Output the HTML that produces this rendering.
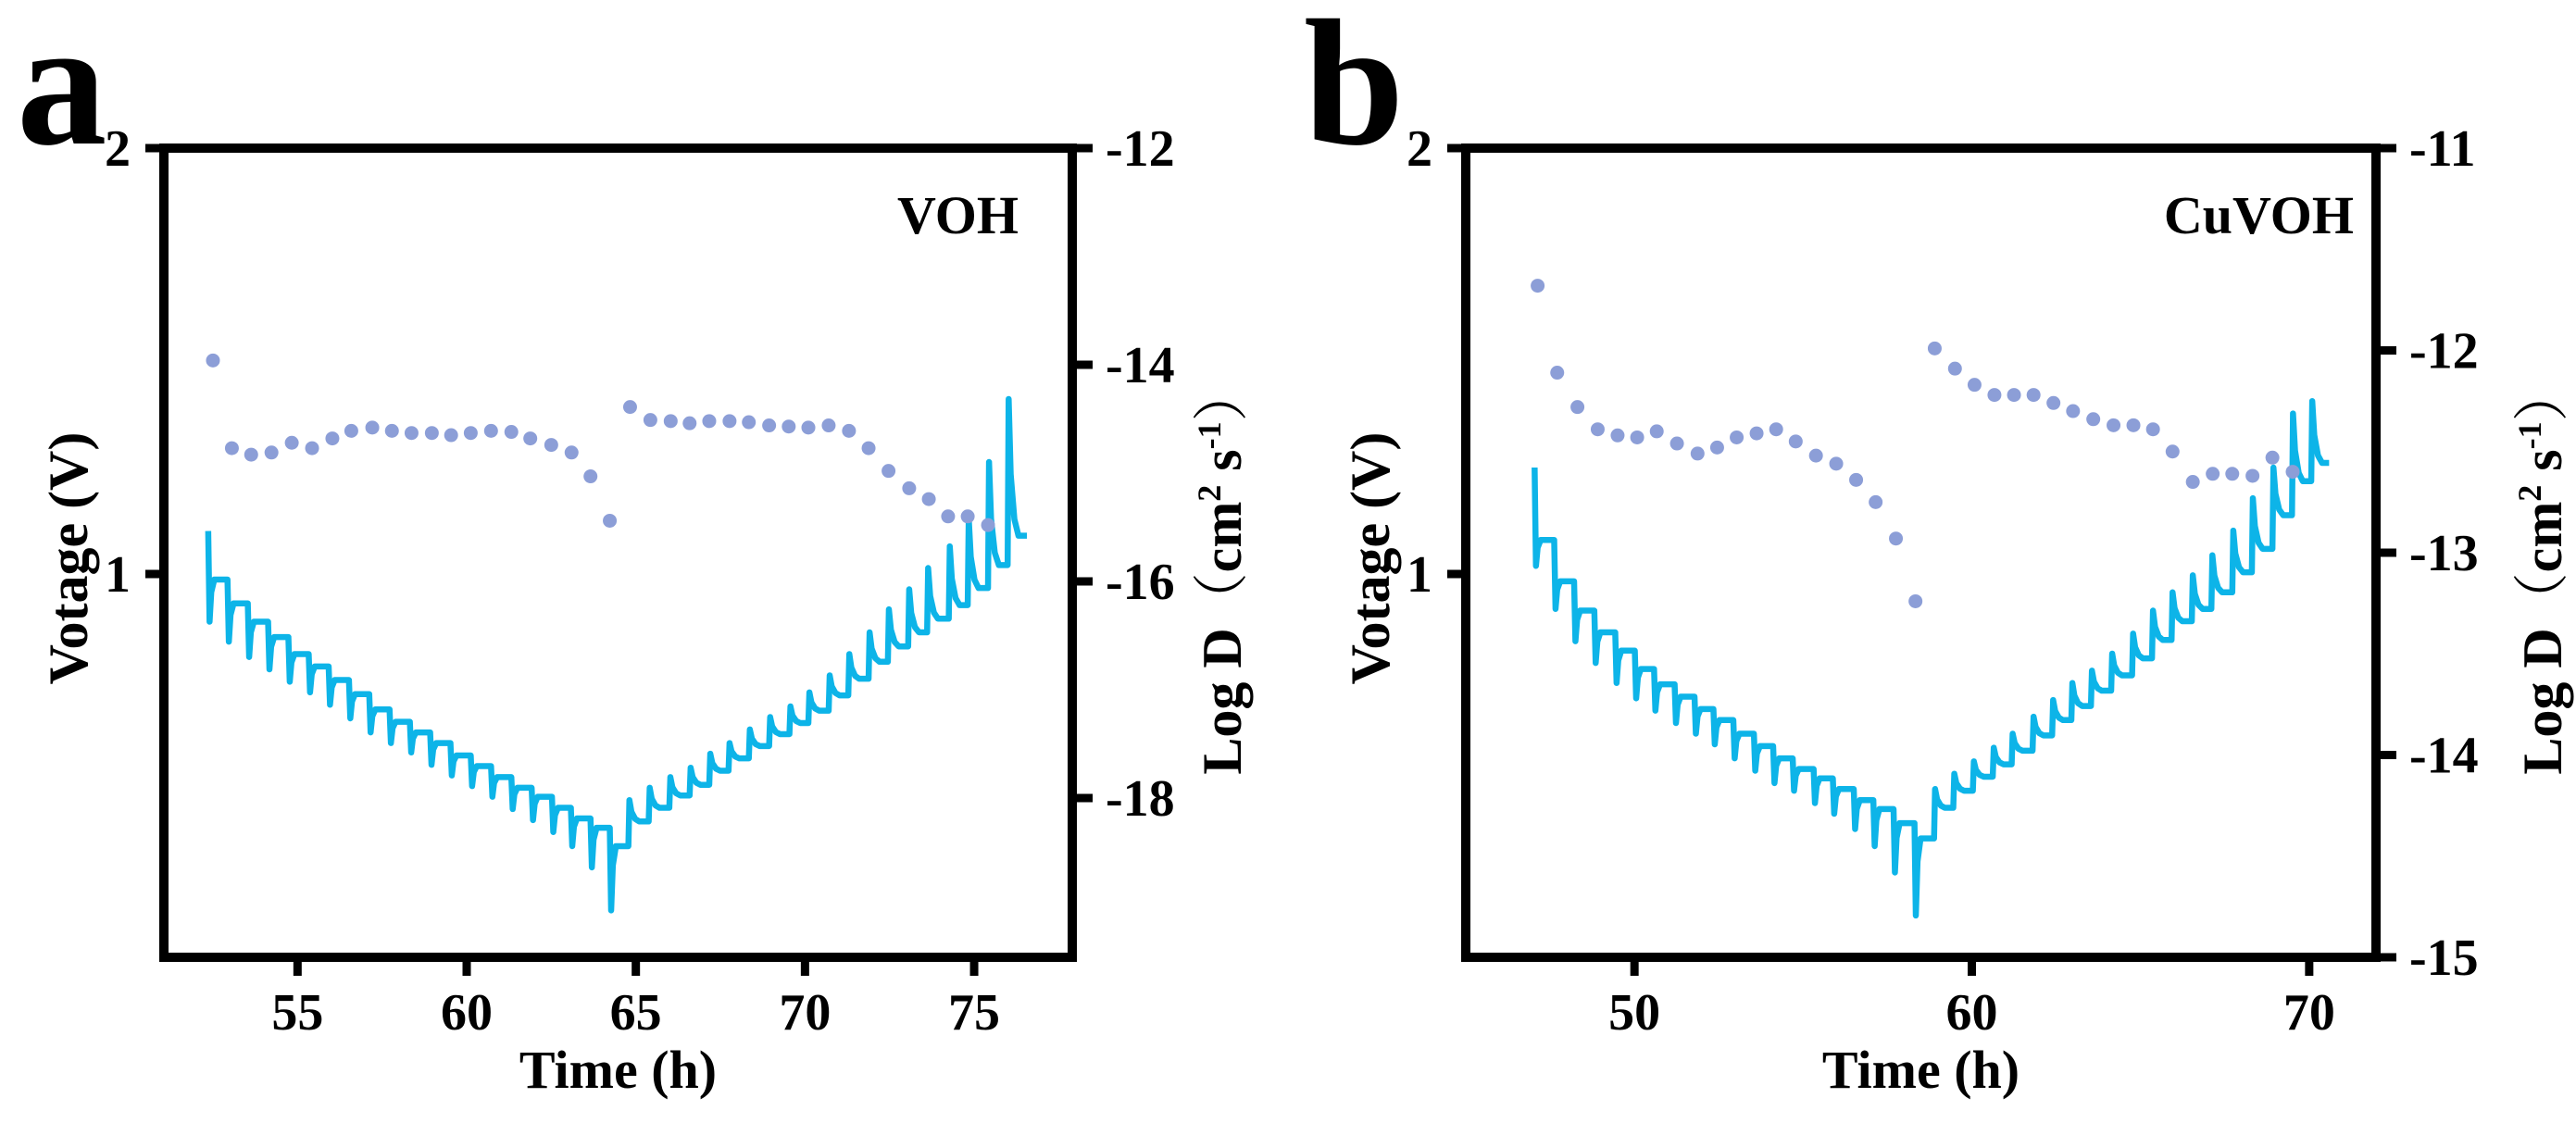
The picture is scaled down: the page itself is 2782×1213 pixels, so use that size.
<!DOCTYPE html>
<html>
<head>
<meta charset="utf-8">
<style>
  html, body { margin: 0; padding: 0; background: #fff; }
  body { width: 2782px; height: 1208px; overflow: hidden; }
  svg text { font-family: "Liberation Serif", "Noto Serif CJK SC", serif; font-weight: bold; fill: #000; }
</style>
</head>
<body>
<svg id="fig" width="2782" height="1208" viewBox="0 0 2782 1208" xmlns="http://www.w3.org/2000/svg"></svg>
<script>
// ---------- Panel a (VOH) data ----------
const aXTicks = [55, 60, 65, 70, 75];
const aLeftTicks = [1, 2];
const aRightTicks = [-12, -14, -16, -18];
const aDotTimes = [52.50,53.06,53.63,54.23,54.83,55.43,56.03,56.59,57.21,57.79,58.37,58.97,59.54,60.12,60.72,61.32,61.88,62.50,63.10,63.66,64.23,64.83,65.43,66.03,66.59,67.17,67.77,68.34,68.94,69.52,70.10,70.70,71.30,71.88,72.47,73.08,73.66,74.23,74.81,75.41];
const aDotLogD = [-13.96,-14.77,-14.83,-14.81,-14.72,-14.77,-14.68,-14.61,-14.58,-14.61,-14.63,-14.63,-14.65,-14.63,-14.61,-14.62,-14.68,-14.74,-14.81,-15.03,-15.44,-14.39,-14.51,-14.52,-14.54,-14.52,-14.52,-14.53,-14.56,-14.57,-14.58,-14.56,-14.61,-14.77,-14.98,-15.14,-15.24,-15.40,-15.40,-15.48];
const aDisTimes = [52.36,52.93,53.53,54.13,54.73,55.33,55.92,56.52,57.12,57.72,58.32,58.92,59.52,60.12,60.72,61.32,61.92,62.52,63.08,63.66,64.23];
const aDisTops = [1.101,0.987,0.931,0.888,0.852,0.812,0.783,0.751,0.718,0.682,0.653,0.628,0.603,0.574,0.549,0.523,0.498,0.477,0.451,0.426,0.404];
const aDisBots = [0.888,0.841,0.805,0.776,0.747,0.722,0.693,0.661,0.628,0.603,0.581,0.552,0.527,0.502,0.477,0.448,0.422,0.394,0.361,0.311,0.210];
const aChgTimes = [64.78,65.38,65.99,66.59,67.17,67.74,68.34,68.94,69.54,70.10,70.70,71.28,71.88,72.45,73.05,73.61,74.25,74.81,75.41,75.99,76.56];
const aChgFloors = [0.361,0.419,0.451,0.480,0.505,0.538,0.567,0.596,0.624,0.650,0.679,0.715,0.754,0.794,0.830,0.863,0.895,0.927,0.967,1.021,1.090];
const aChgPeaks = [0.469,0.498,0.523,0.545,0.578,0.603,0.635,0.664,0.689,0.722,0.762,0.812,0.863,0.917,0.964,1.014,1.065,1.130,1.263,1.411];

// ---------- Panel b (CuVOH) data ----------
const bXTicks = [50, 60, 70];
const bLeftTicks = [1, 2];
const bRightTicks = [-11, -12, -13, -14, -15];
const bDotTimes = [47.13,47.71,48.31,48.91,49.50,50.08,50.66,51.26,51.87,52.45,53.03,53.62,54.20,54.78,55.38,55.98,56.57,57.15,57.75,58.33,58.90,59.50,60.08,60.67,61.25,61.83,62.42,63.00,63.60,64.20,64.79,65.37,65.95,66.55,67.14,67.72,68.32,68.91,69.51];
const bDotLogD = [-11.68,-12.11,-12.28,-12.39,-12.42,-12.43,-12.40,-12.46,-12.51,-12.48,-12.43,-12.41,-12.39,-12.45,-12.52,-12.56,-12.64,-12.75,-12.93,-13.24,-11.99,-12.09,-12.17,-12.22,-12.22,-12.22,-12.26,-12.30,-12.34,-12.37,-12.37,-12.39,-12.50,-12.65,-12.61,-12.61,-12.62,-12.53,-12.60];
const bDisTimes = [47.04,47.62,48.21,48.81,49.43,50.01,50.58,51.19,51.78,52.34,52.93,53.54,54.11,54.69,55.31,55.88,56.50,57.08,57.68,58.30];
const bDisTops = [1.250,1.080,0.983,0.914,0.863,0.820,0.777,0.741,0.712,0.683,0.657,0.625,0.596,0.567,0.542,0.520,0.495,0.469,0.448,0.415];
const bDisBots = [1.019,0.918,0.842,0.791,0.744,0.708,0.679,0.650,0.625,0.600,0.567,0.538,0.509,0.491,0.462,0.437,0.401,0.361,0.299,0.198];
const bChgTimes = [58.88,59.45,60.03,60.62,61.18,61.80,62.38,62.95,63.53,64.13,64.75,65.34,65.92,66.52,67.10,67.72,68.30,68.91,69.49,70.06,70.59];
const bChgFloors = [0.379,0.451,0.491,0.524,0.553,0.585,0.621,0.657,0.690,0.726,0.762,0.802,0.845,0.889,0.918,0.957,1.004,1.059,1.138,1.218,1.261];
const bChgPeaks = [0.495,0.531,0.560,0.592,0.625,0.665,0.704,0.744,0.773,0.813,0.860,0.914,0.957,0.997,1.044,1.102,1.178,1.250,1.377,1.406];

const NS = 'http://www.w3.org/2000/svg';
const svg = document.getElementById('fig');
function mk(tag, attrs, parent) {
  const e = document.createElementNS(NS, tag);
  for (const k in attrs) e.setAttribute(k, attrs[k]);
  (parent || svg).appendChild(e);
  return e;
}
function txt(str, attrs, parent) { const t = mk('text', attrs, parent); t.textContent = str; return t; }

function drawPanel(cfg) {
  const g = mk('g', {});
  
  
  const L = cfg.left, R = cfg.right, T = 160, B = 1034;
  const x = t => L + (t - cfg.xmin) / (cfg.xmax - cfg.xmin) * (R - L);
  const yV = v => B - (v - 0.1) / (2 - 0.1) * (B - T);
  const yD = d => T + (cfg.dmax - d) / (cfg.dmax - cfg.dmin) * (B - T);

  const letter = txt(cfg.letter, { x: cfg.letterX, y: 155, 'font-size': 195 }, g);
  
  

  let d = 'M' + x(cfg.disT[0]) + ',' + yV(cfg.disTop[0]);
  const n = cfg.disT.length;
  for (let i = 0; i < n; i++) {
    const t = cfg.disT[i];
    const next = i < n - 1 ? cfg.disTop[i + 1] : cfg.chgF[0];
    d += ' L' + x(t) + ',' + yV(cfg.disTop[i]);
    d += ' L' + x(t + 0.04) + ',' + yV(cfg.disBot[i]);
    d += ' L' + x(t + 0.09) + ',' + yV(next - 0.3 * (next - cfg.disBot[i]));
    d += ' L' + x(t + 0.18) + ',' + yV(next);
  }
  const m = cfg.chgP.length;
  for (let i = 0; i < m; i++) {
    const t = cfg.chgT[i];
    const f = cfg.chgF[i], nf = cfg.chgF[i + 1], p = cfg.chgP[i];
    d += ' L' + x(t) + ',' + yV(f);
    d += ' L' + x(t + 0.03) + ',' + yV(p);
    d += ' L' + x(t + 0.09) + ',' + yV(nf + 0.45 * (p - nf));
    d += ' L' + x(t + 0.2) + ',' + yV(nf + 0.12 * (p - nf));
    d += ' L' + x(t + 0.32) + ',' + yV(nf);
  }
  d += ' L' + x(cfg.chgT[m]) + ',' + yV(cfg.chgF[m]);
  const line = mk('path', { d: d, fill: 'none', stroke: '#0db4e8', 'stroke-width': 6.5, 'stroke-linejoin': 'round' }, g);
  
  

  for (let i = 0; i < cfg.dotT.length; i++) {
    const c = mk('circle', { cx: x(cfg.dotT[i]), cy: yD(cfg.dotD[i]), r: 7.5, fill: '#8c9ed7' }, g);
    
    
  }

  const frame = mk('rect', { x: L, y: T, width: R - L, height: B - T, fill: 'none', stroke: '#000', 'stroke-width': 10 }, g);
  
  

  cfg.xt.forEach(v => {
    mk('line', { x1: x(v), x2: x(v), y1: B, y2: B + 20, stroke: '#000', 'stroke-width': 9 }, g);
    const tl = txt(String(v), { x: x(v), y: 1112, 'font-size': 56, 'text-anchor': 'middle' }, g);
    
    
  });
  cfg.lt.forEach(v => {
    mk('line', { x1: L - 20, x2: L, y1: yV(v), y2: yV(v), stroke: '#000', 'stroke-width': 9 }, g);
    const tl = txt(String(v), { x: L - 36, y: yV(v) + 19, 'font-size': 56, 'text-anchor': 'end' }, g);
    
    
  });
  cfg.rt.forEach(v => {
    mk('line', { x1: R, x2: R + 22, y1: yD(v), y2: yD(v), stroke: '#000', 'stroke-width': 9 }, g);
    const tl = txt(String(v), { x: R + 36, y: yD(v) + 19, 'font-size': 56 }, g);
    
    
  });

  const xt = txt('Time (h)', { x: (L + R) / 2, y: 1175, 'font-size': 58, 'text-anchor': 'middle' }, g);
  
  
  const yl = txt('Votage (V)', { x: 0, y: 0, 'font-size': 60, 'text-anchor': 'middle', transform: 'translate(' + (L + 2 - 85) + ',603) rotate(-90)' }, g);
  
  
  const yr = mk('text', { x: 0, y: 0, 'font-size': 60, 'text-anchor': 'middle', transform: 'translate(' + cfg.logDX + ',616) rotate(-90)' }, g);
  
  
  const parts = [['Log D', {}], ['\uFF08', { 'font-weight': 'normal' }], ['cm', {}], ['2', { 'font-size': 36, dy: -22 }], [' s', { dy: 22 }], ['-1', { 'font-size': 36, dy: -22 }], ['\uFF09', { 'font-weight': 'normal', dy: 22 }]];
  parts.forEach(p => { const s = mk('tspan', p[1], yr); s.textContent = p[0]; });

  const sl = txt(cfg.sample, { x: cfg.sampleX, y: 252, 'font-size': 58, 'text-anchor': 'end' }, g);
  
  
}

drawPanel({ id: 'a', letter: 'a', letterX: 18, sample: 'VOH', sampleX: 1100, left: 177, right: 1158,
  xmin: 51.05, xmax: 77.9, dmax: -12, dmin: -19.47, logDX: 1340,
  xt: aXTicks, lt: aLeftTicks, rt: aRightTicks, dotT: aDotTimes, dotD: aDotLogD,
  disT: aDisTimes, disTop: aDisTops, disBot: aDisBots, chgT: aChgTimes, chgF: aChgFloors, chgP: aChgPeaks });
drawPanel({ id: 'b', letter: 'b', letterX: 1408, sample: 'CuVOH', sampleX: 2542, left: 1583, right: 2566,
  xmin: 45.0, xmax: 71.98, dmax: -11, dmin: -15, logDX: 2766,
  xt: bXTicks, lt: bLeftTicks, rt: bRightTicks, dotT: bDotTimes, dotD: bDotLogD,
  disT: bDisTimes, disTop: bDisTops, disBot: bDisBots, chgT: bChgTimes, chgF: bChgFloors, chgP: bChgPeaks });
</script>
</body>
</html>
